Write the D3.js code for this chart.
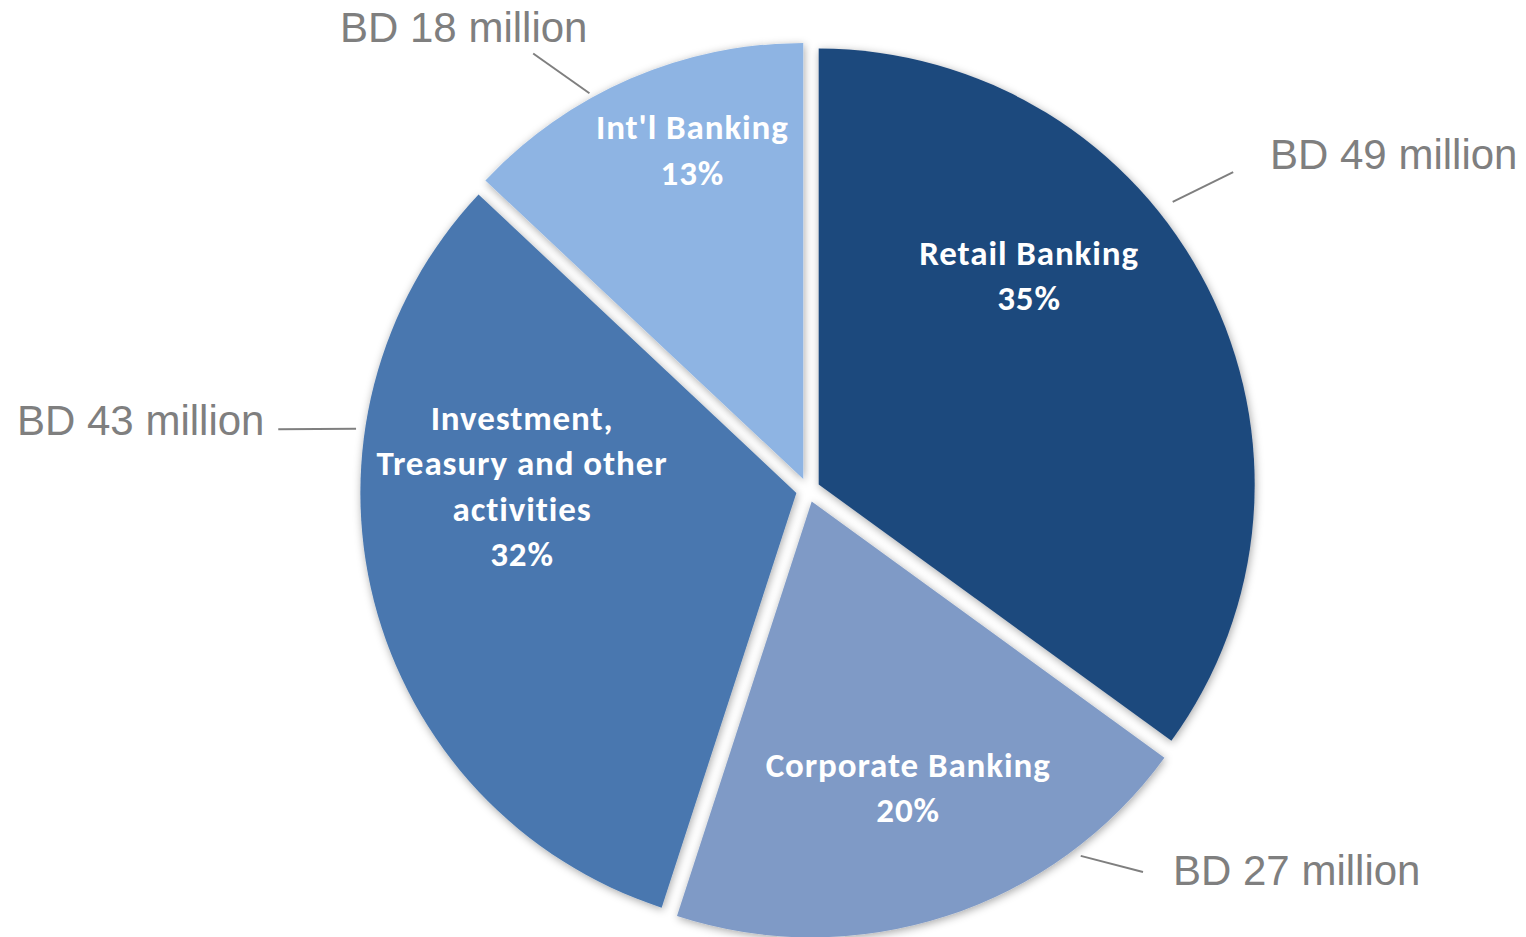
<!DOCTYPE html>
<html>
<head>
<meta charset="utf-8">
<script src="https://cdn.jsdelivr.net/npm/d3@7"></script>
<style>
  html, body { margin: 0; padding: 0; background: #ffffff; overflow: hidden; }
  svg { display: block; }
</style>
</head>
<body>
<svg id="chart" width="1526" height="937"></svg>
<script>
// Operating income by business segment
const segments = ["Retail Banking", "Corporate Banking", "Investment, Treasury and other activities", "Int'l Banking"];
const shares = [35, 20, 32, 13];          // % of total
const amounts = [49, 27, 43, 18];         // BD million
const labelLines = [
  ["Retail Banking"],
  ["Corporate Banking"],
  ["Investment,", "Treasury and other", "activities"],
  ["Int'l Banking"]
];
const colors = ["#1f497d", "#7f9ac6", "#4877af", "#8eb4e3"];

// layout
const W = 1526, H = 937;
const cx = 808, cy = 490, R = 436, explode = 12;
const lineGap = 45.5;
// inner label anchors: angle (deg, clockwise from 12 o'clock) and fraction of radius
const innerAnchor = [[45.9, 0.706], [161.4, 0.72], [270.8, 0.656], [341.2, 0.823]];
// leader lines: [angle, radius] at the slice edge and at the label end
const leaders = [[[51.4, 453], [53, 519]], [[142.8, 445], [138.2, 497]], [[278.3, 445], [277, 522]], [[331, 441], [327.6, 504]]];
// value label: text-anchor start point, offset from pie centre
const valueAnchor = [[462, -321], [365, 395], [-791, -55], [-468, -448]];

const rad = d => d * Math.PI / 180;
const polar = (a, r) => [Math.sin(rad(a)) * r, -Math.cos(rad(a)) * r];

const data = segments.map((s, i) => ({ name: s, share: shares[i], amount: amounts[i], lines: labelLines[i], color: colors[i], i }));

const pie = d3.pie().value(d => d.share).sort(null);
const arc = d3.arc().innerRadius(0).outerRadius(R);
const arcs = pie(data);

const svg = d3.select("#chart");
const defs = svg.append("defs");
const f = defs.append("filter").attr("id", "soft").attr("x", "-20%").attr("y", "-20%").attr("width", "140%").attr("height", "140%");
f.append("feDropShadow").attr("dx", 1).attr("dy", 2).attr("stdDeviation", 4)
  .attr("flood-color", "#000").attr("flood-opacity", 0.35);

const g = svg.append("g").attr("transform", `translate(${cx},${cy})`);

// slice offset along its bisector
const shift = a => {
  const mid = (a.startAngle + a.endAngle) / 2;
  return [Math.sin(mid) * explode, -Math.cos(mid) * explode];
};

g.selectAll("path.slice").data(arcs).join("path")
  .attr("class", "slice")
  .attr("d", arc)
  .attr("fill", d => d.data.color)
  .attr("transform", d => `translate(${shift(d)})`)
  .attr("filter", "url(#soft)");

// leader lines
g.selectAll("line.leader").data(arcs).join("line")
  .attr("class", "leader")
  .each(function (d) {
    const [o, e] = leaders[d.index];
    const s = shift(d);
    const p1 = polar(o[0], o[1]), p2 = polar(e[0], e[1]);
    d3.select(this)
      .attr("x1", p1[0] + s[0]).attr("y1", p1[1] + s[1])
      .attr("x2", p2[0] + s[0]).attr("y2", p2[1] + s[1]);
  })
  .attr("stroke", "#7f7f7f").attr("stroke-width", 2);

// value labels outside the pie
g.selectAll("text.value").data(arcs).join("text")
  .attr("class", "value")
  .attr("x", d => valueAnchor[d.index][0])
  .attr("y", d => valueAnchor[d.index][1])
  .attr("font-family", "Arial, 'Liberation Sans', sans-serif")
  .attr("font-size", 42)
  .attr("fill", "#7f7f7f")
  .text(d => `BD ${d.data.amount} million`);

// category + share labels inside slices
const inner = g.selectAll("text.inner").data(arcs).join("text")
  .attr("class", "inner")
  .attr("text-anchor", "middle")
  .attr("font-family", "Calibri, Carlito, Lato, sans-serif")
  .attr("font-weight", "bold")
  .attr("font-size", 35)
  .attr("letter-spacing", 0.9)
  .attr("fill", "#ffffff");

inner.each(function (d) {
  const a = innerAnchor[d.index];
  const [x, y] = polar(a[0], a[1] * R);
  const lines = d.data.lines.concat([`${d.data.share}%`]);
  const top = y - (lines.length - 1) * lineGap / 2;
  d3.select(this).selectAll("tspan").data(lines).join("tspan")
    .attr("x", x)
    .attr("y", (t, k) => top + k * lineGap)
    .attr("dy", "0.34em")
    .text(t => t);
});
</script>
</body>
</html>
